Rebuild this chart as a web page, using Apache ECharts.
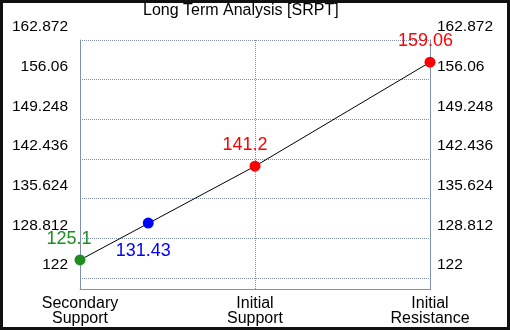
<!DOCTYPE html>
<html>
<head>
<meta charset="utf-8">
<script src="https://cdn.jsdelivr.net/npm/echarts@6/dist/echarts.min.js"></script>
<style>
  html, body { margin: 0; padding: 0; background: #111; }
  #frame { position: absolute; left: 0; top: 0; width: 510px; height: 330px; background: #111; }
  #chart { position: absolute; left: 3px; top: 3px; width: 504px; height: 324px; background: #fff; }
</style>
</head>
<body>
<div id="frame"><div id="chart"></div></div>
<script>
// ---- data ----
const titleText = 'Long Term Analysis [SRPT]';
const categories = ['Secondary\nSupport', 'Initial\nSupport', 'Initial\nResistance'];
const categoryPos = [0, 1, 2];
const levelValues = [125.1, 141.2, 159.06];
const levelColors = ['#228B22', '#FF0000', '#FF0000'];
const currentPrice = [131.43];
const currentPos = [0.39];
const currentColor = '#0000FF';
const yMin = 122;
const yMax = 162.872;
const yStep = 6.812;

// ---- styles ----
const axisColor = '#7f8fae';
const fontFamily = '"Liberation Sans", Arial, sans-serif';
const labelOffsets = [[-11, -21], [-10, -21], [-4.5, -21.5]];
const currentOffset = [-5, 28];

const chart = echarts.init(document.getElementById('chart'), null, { renderer: 'canvas' });

function fmt(v) { return String(parseFloat(Number(v).toFixed(3))); }
function fmtRich(v) { return '{t|' + fmt(v) + '}'; }
const tickRich = { t: { fontSize: 15.5, fontFamily: fontFamily, color: '#000', padding: [0, 0, 26, 0] } };

const levelSeries = levelValues.map((v, i) => ({
  type: 'scatter',
  xAxisIndex: 0, yAxisIndex: 0,
  symbol: 'circle',
  symbolSize: 11,
  itemStyle: { color: levelColors[i], opacity: 1 },
  z: 5,
  data: [[categoryPos[i], v]],
  label: {
    show: true,
    position: 'inside',
    offset: labelOffsets[i],
    formatter: () => fmt(v),
    color: levelColors[i],
    opacity: 1,
    fontSize: 18,
    fontFamily: fontFamily
  }
}));

const option = {
  animation: false,
  backgroundColor: '#fff',
  title: {
    text: titleText,
    left: 140,
    top: 0,
    padding: 0,
    textStyle: { fontSize: 16, fontWeight: 'normal', color: '#000', fontFamily: fontFamily }
  },
  grid: [
    { left: 77, right: 77, top: 37, bottom: 49, containLabel: false },
    { left: 77, right: 77, top: 37, bottom: 37, containLabel: false }
  ],
  xAxis: [
    {
      type: 'value', gridIndex: 0, min: 0, max: 2, interval: 1,
      axisLine: { show: false }, axisTick: { show: false }, axisLabel: { show: false },
      splitLine: { show: false }
    },
    {
      type: 'value', gridIndex: 1, min: 0, max: 2, interval: 1,
      axisLine: { show: true, lineStyle: { color: axisColor, width: 1 } },
      axisTick: { show: false },
      axisLabel: {
        show: true, margin: 7,
        formatter: (v) => categories[categoryPos.indexOf(Math.round(v))] || '',
        color: '#000', fontSize: 16, lineHeight: 15, fontFamily: fontFamily, align: 'center'
      },
      splitLine: { show: true, lineStyle: { color: axisColor, type: [1, 1], width: 1 } }
    }
  ],
  yAxis: [
    {
      type: 'value', gridIndex: 0, position: 'left', min: yMin, max: yMax, interval: yStep,
      axisLine: { show: false }, axisTick: { show: false },
      axisLabel: {
        show: true, margin: 12, formatter: fmtRich, verticalAlign: 'middle', rich: tickRich
      },
      splitLine: { show: true, lineStyle: { color: axisColor, type: [1, 1], width: 1 } }
    },
    {
      type: 'value', gridIndex: 0, position: 'right', min: yMin, max: yMax, interval: yStep,
      axisLine: { show: false }, axisTick: { show: false },
      axisLabel: {
        show: true, margin: 7, formatter: fmtRich, verticalAlign: 'middle', rich: tickRich
      },
      splitLine: { show: false }
    },
    {
      type: 'value', gridIndex: 1, position: 'left', min: 0, max: 1,
      axisLine: { show: true, lineStyle: { color: axisColor, width: 1 } },
      axisTick: { show: false }, axisLabel: { show: false }, splitLine: { show: false }
    },
    {
      type: 'value', gridIndex: 1, position: 'right', min: 0, max: 1,
      axisLine: { show: true, lineStyle: { color: axisColor, width: 1 } },
      axisTick: { show: false }, axisLabel: { show: false }, splitLine: { show: false }
    }
  ],
  series: [
    {
      type: 'line',
      xAxisIndex: 0, yAxisIndex: 0,
      data: categoryPos.map((x, i) => [x, levelValues[i]]),
      showSymbol: false,
      symbol: 'none',
      lineStyle: { color: '#000', width: 1 },
      z: 3
    },
    ...levelSeries,
    {
      type: 'scatter',
      xAxisIndex: 0, yAxisIndex: 0,
      symbol: 'circle',
      symbolSize: 11,
      itemStyle: { color: currentColor, opacity: 1 },
      z: 5,
      data: currentPos.map((x, i) => [x, currentPrice[i]]),
      label: {
        show: true,
        position: 'inside',
        offset: currentOffset,
        formatter: (p) => fmt(p.value[1]),
        color: currentColor,
        fontSize: 18,
        fontFamily: fontFamily
      }
    }
  ]
};
chart.setOption(option);
</script>
</body>
</html>
